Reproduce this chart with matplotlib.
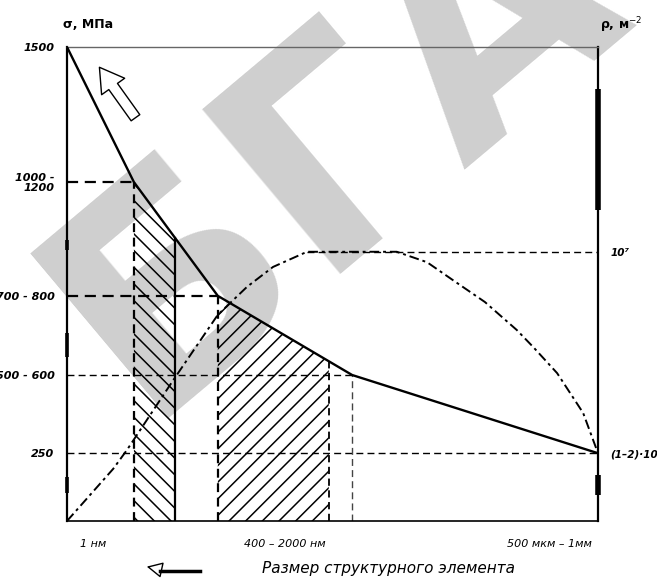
import matplotlib
matplotlib.use('Agg')
import matplotlib.pyplot as plt
import numpy as np

# Schematic drawing units: x 0..100 along the size axis, y 0..100 along the stress axis
sigma_x = [0, 12.6, 28.4, 53.7, 100]
sigma_y = [100, 71.5, 47.5, 30.8, 14.3]

rho_x = [0, 8.7, 11.3, 20.0, 28.4, 33.9, 38.8, 45.2, 62.1, 67.8, 72.7, 78.7, 84.7, 87.8, 92.3, 97.2, 100]
rho_y = [0, 11.0, 15.0, 29.7, 43.5, 49.4, 53.6, 56.8, 56.8, 54.6, 50.8, 46.2, 40.3, 36.7, 31.2, 22.8, 14.3]

sigma_levels = [100, 71.5, 47.5, 30.8, 14.3]
sigma_labels = ['1500', '1000 -\n1200', '700 - 800', '500 - 600', '250']

rho_levels = [56.8, 14.3]
rho_labels = ['10⁷', '(1–2)·10⁴']

size_pos = [4.9, 41.0, 90.8]
size_labels = ['1 нм', '400 – 2000 нм', '500 мкм – 1мм']

band1 = [12.6, 20.3]
band2 = [28.4, 49.3]
extra_vline = 53.7

right_marks = [(65.6, 91.1), (5.5, 9.7)]
left_marks = [(57.2, 59.3), (34.6, 39.7), (5.9, 9.3)]

plt.rcParams['font.family'] = ['DejaVu Sans']
plt.rcParams['hatch.linewidth'] = 1.1

fig = plt.figure(figsize=(6.57, 5.78), dpi=100)
ax = fig.add_axes([67/657, 57/578, 531/657, 474/578])
ax.patch.set_alpha(0)
ax.set_xlim(0, 100)
ax.set_ylim(0, 100)

# watermark
fig.text(335/657, 1 - 150/578, 'БГА', fontsize=212, fontweight='bold', color='#cfcfcf',
         rotation=40, ha='center', va='center', zorder=-5)

def sig_at(x):
    return np.interp(x, sigma_x, sigma_y)

def x_at_level(level):
    return np.interp(level, sigma_y[::-1], sigma_x[::-1])

# hatched bands
for (a, b), h in [(band1, '\\\\'), (band2, '//')]:
    xs = np.linspace(a, b, 60)
    ax.fill_between(xs, 0, sig_at(xs), facecolor='none', edgecolor='black',
                    hatch=h, linewidth=0, zorder=1)

# horizontal reference lines
for lev, lw in zip(sigma_levels[1:], [1.6, 1.6, 1.0, 1.0]):
    ax.plot([0, x_at_level(lev)], [lev, lev], color='black', lw=lw,
            dashes=(5, 3), zorder=2)

# plateau reference line for rho
plateau = max(rho_y)
ax.plot([rho_x[rho_y.index(plateau)], 100], [plateau, plateau], color='black',
        lw=1.0, dashes=(5, 3), zorder=2)

# vertical lines
ax.plot([band1[0]] * 2, [0, sig_at(band1[0])], color='black', lw=1.6, dashes=(4, 2.5), zorder=2)
ax.plot([band1[1]] * 2, [0, sig_at(band1[1])], color='black', lw=1.6, zorder=2)
ax.plot([band2[0]] * 2, [0, sig_at(band2[0])], color='black', lw=1.6, dashes=(4, 2.5), zorder=2)
ax.plot([band2[1]] * 2, [0, sig_at(band2[1])], color='black', lw=1.3, dashes=(4, 2.5), zorder=2)
ax.plot([extra_vline] * 2, [0, sig_at(extra_vline)], color='#444444', lw=1.0, dashes=(5, 3), zorder=2)

# stress curve
ax.plot(sigma_x, sigma_y, color='black', lw=1.7, zorder=3)
# dislocation density curve
ax.plot(rho_x, rho_y, color='black', lw=1.4, dashes=(5, 2, 1.5, 2), zorder=3)

# hollow arrow
ax.annotate('', xy=(5.8, 96.2), xytext=(13.2, 84.6),
            arrowprops=dict(arrowstyle='simple,head_length=1.0,head_width=1.2,tail_width=0.45',
                            fc='white', ec='black', lw=1.0, mutation_scale=17), zorder=4)

# spines
for s in ['left', 'right']:
    ax.spines[s].set_linewidth(1.6)
ax.spines['bottom'].set_linewidth(1.2)
ax.spines['top'].set_linewidth(1.0)
ax.spines['top'].set_color('#666666')

for lo, hi in right_marks:
    ax.plot([100, 100], [lo, hi], color='black', lw=4, solid_capstyle='butt', clip_on=False, zorder=5)
for lo, hi in left_marks:
    ax.plot([0, 0], [lo, hi], color='black', lw=2.6, solid_capstyle='butt', clip_on=False, zorder=5)

# ticks
ax.set_yticks(sigma_levels)
ax.set_yticklabels(sigma_labels, fontsize=8, style='italic', fontweight='bold',
                   linespacing=1.0)
ax.set_xticks(size_pos)
ax.set_xticklabels(size_labels, fontsize=8, style='italic')
ax.tick_params(axis='both', length=0)
ax.tick_params(axis='y', pad=9)
ax.tick_params(axis='x', pad=13)

ax2 = ax.twinx()
ax2.set_ylim(0, 100)
ax2.set_yticks(rho_levels)
ax2.set_yticklabels(rho_labels, fontsize=7.5, style='italic', fontweight='bold')
ax2.tick_params(axis='y', length=0, pad=9)
for s in ax2.spines.values():
    s.set_visible(False)

# axis titles
fig.text(63/657, 1 - 25/578, 'σ, МПа', fontsize=9, fontweight='bold', va='center', ha='left')
fig.text(600/657, 1 - 25/578, 'ρ, м$^{-2}$', fontsize=9, fontweight='bold', va='center', ha='left')

# bottom label with arrow
fig.text(262/657, 1 - 568/578, 'Размер структурного элемента', fontsize=11,
         style='italic', va='center', ha='left')
fig.add_artist(plt.Line2D([160/657, 200/657], [1 - 571/578, 1 - 571/578],
                          color='black', lw=2.5, transform=fig.transFigure))
fig.patches.append(matplotlib.patches.FancyArrowPatch(
    (162/657, 1 - 570/578), (144/657, 1 - 566/578), transform=fig.transFigure,
    arrowstyle='-|>,head_length=0.7,head_width=0.35', fc='white', ec='black',
    lw=1.0, mutation_scale=14))

fig.savefig('out.png', dpi=100)
